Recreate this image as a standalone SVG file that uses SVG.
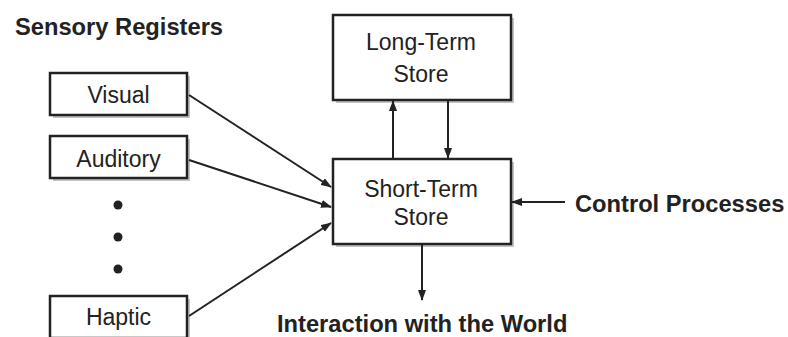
<svg xmlns="http://www.w3.org/2000/svg" width="788" height="337" viewBox="0 0 788 337">
<style>
text{font-family:"Liberation Sans",Arial,Helvetica,sans-serif;fill:#222;font-size:23px}
.b{font-weight:bold;font-size:23.7px}
.box{fill:#fff;stroke:#222;stroke-width:2.5}
.sh{fill:#c4c4c4}
.c{text-anchor:middle}
.ln{stroke:#222;stroke-width:2;fill:none;marker-end:url(#ah)}
</style>
<defs>
<marker id="ah" markerWidth="11" markerHeight="8" refX="10" refY="4" orient="auto" markerUnits="userSpaceOnUse">
<path d="M0,0 L11,4 L0,8 z" fill="#222"/>
</marker>
</defs>
<rect width="788" height="337" fill="#fff"/>
<text class="b" x="15" y="35">Sensory Registers</text>
<g id="visual">
<rect class="sh" x="53" y="76" width="137" height="42"/>
<rect class="box" x="50" y="73" width="137" height="42"/>
<text class="c" x="118.5" y="103">Visual</text>
</g>
<g id="auditory">
<rect class="sh" x="53" y="139" width="137" height="42"/>
<rect class="box" x="50" y="136" width="137" height="42"/>
<text class="c" x="118.5" y="167">Auditory</text>
</g>
<g id="dots" fill="#222">
<circle cx="118" cy="205" r="4.5"/>
<circle cx="118" cy="237" r="4.5"/>
<circle cx="118" cy="269" r="4.5"/>
</g>
<g id="haptic">
<rect class="sh" x="53" y="299" width="137" height="42"/>
<rect class="box" x="50" y="296" width="137" height="42"/>
<text class="c" x="118.5" y="325">Haptic</text>
</g>
<g id="ltm">
<rect class="sh" x="336" y="18" width="178" height="85"/>
<rect class="box" x="333" y="15" width="178" height="85"/>
<text class="c" x="421" y="50">Long-Term</text>
<text class="c" x="421" y="82">Store</text>
</g>
<g id="stm">
<rect class="sh" x="336" y="162" width="178" height="85"/>
<rect class="box" x="333" y="159" width="178" height="85"/>
<text class="c" x="421" y="197">Short-Term</text>
<text class="c" x="421" y="225">Store</text>
</g>
<g id="control">
<text class="b" x="575" y="212">Control Processes</text>
</g>
<g id="world">
<text class="b" x="277" y="332">Interaction with the World</text>
</g>
<g id="connectors">
<line class="ln" x1="189" y1="95" x2="331" y2="187"/>
<line class="ln" x1="189" y1="160" x2="331" y2="207"/>
<line class="ln" x1="189" y1="316" x2="331" y2="223"/>
<line class="ln" x1="393" y1="159" x2="393" y2="101"/>
<line class="ln" x1="448" y1="100" x2="448" y2="158"/>
<line class="ln" x1="565" y1="202" x2="512" y2="202"/>
<line class="ln" x1="422" y1="245" x2="422" y2="300"/>
</g>
</svg>
